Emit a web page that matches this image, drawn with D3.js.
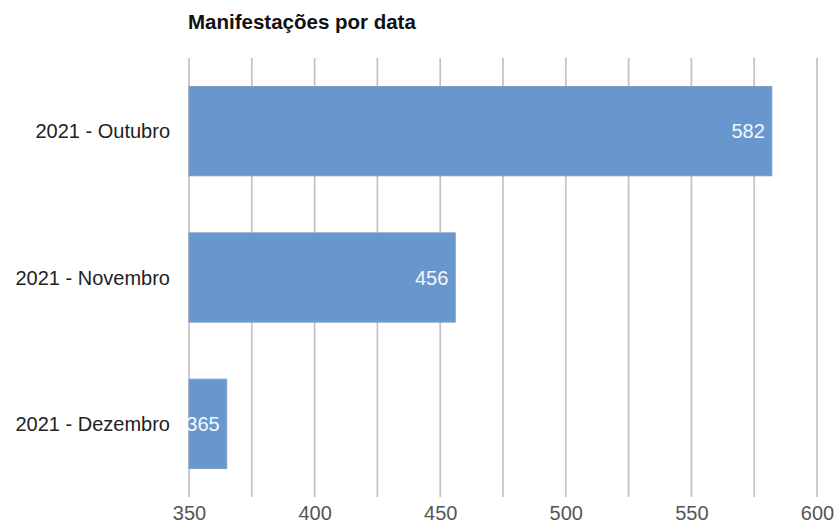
<!DOCTYPE html>
<html>
<head>
<meta charset="utf-8">
<script src="https://cdn.jsdelivr.net/npm/d3@7/dist/d3.min.js"></script>
<style>
  html, body { margin: 0; padding: 0; background: #ffffff; }
  svg { display: block; }
  text { font-family: "Liberation Sans", Arial, sans-serif; }
</style>
</head>
<body>
<svg id="chart" width="835" height="524"></svg>
<script>
const title = "Manifestações por data";
const categories = ["2021 - Outubro", "2021 - Novembro", "2021 - Dezembro"];
const values = [582, 456, 365];
const xTicks = [350, 375, 400, 425, 450, 475, 500, 525, 550, 575, 600];
const xTickLabels = ["350", "", "400", "", "450", "", "500", "", "550", "", "600"];

const svg = d3.select("#chart");
const plotLeft = 189, plotRight = 817, plotTop = 58, plotBottom = 497;

const x = d3.scaleLinear().domain([350, 600]).range([plotLeft, plotRight]);
const y = d3.scaleBand().domain(categories).range([plotTop, plotBottom])
  .paddingInner(0.39).paddingOuter(0.195);

// title
svg.append("text")
  .attr("x", 188).attr("y", 29)
  .attr("font-size", 20.5).attr("font-weight", "bold").attr("fill", "#111")
  .text(title);

// gridlines
svg.append("g").selectAll("line").data(xTicks).join("line")
  .attr("x1", d => x(d)).attr("x2", d => x(d))
  .attr("y1", plotTop).attr("y2", plotBottom)
  .attr("stroke", "#c2c2c2").attr("stroke-width", 1.7);

// tick labels
const axis = d3.axisBottom(x).tickValues(xTicks)
  .tickFormat((d, i) => xTickLabels[i]).tickSize(0).tickPadding(0);
const ax = svg.append("g").attr("transform", `translate(0,${plotBottom})`).call(axis);
ax.select(".domain").remove();
ax.selectAll("text")
  .attr("dy", null).attr("y", 22.5)
  .attr("font-size", 20).attr("fill", "#555")
  .attr("font-family", "Liberation Sans, Arial, sans-serif");

// bars
svg.append("g").selectAll("rect").data(values).join("rect")
  .attr("x", x(350))
  .attr("y", (d, i) => y(categories[i]))
  .attr("width", d => x(d) - x(350))
  .attr("height", y.bandwidth())
  .attr("fill", "#6897ce")
  .attr("stroke", "#819dc0").attr("stroke-width", 1);

// value labels
svg.append("g").selectAll("text").data(values).join("text")
  .attr("x", d => x(d) - 7)
  .attr("y", (d, i) => y(categories[i]) + y.bandwidth() / 2 + 7)
  .attr("text-anchor", "end")
  .attr("font-size", 20).attr("fill", "#f4f7fb")
  .text(d => d);

// category labels
svg.append("g").selectAll("text").data(categories).join("text")
  .attr("x", 170)
  .attr("y", d => y(d) + y.bandwidth() / 2 + 7)
  .attr("text-anchor", "end")
  .attr("font-size", 20).attr("fill", "#222")
  .text(d => d);
</script>
</body>
</html>
